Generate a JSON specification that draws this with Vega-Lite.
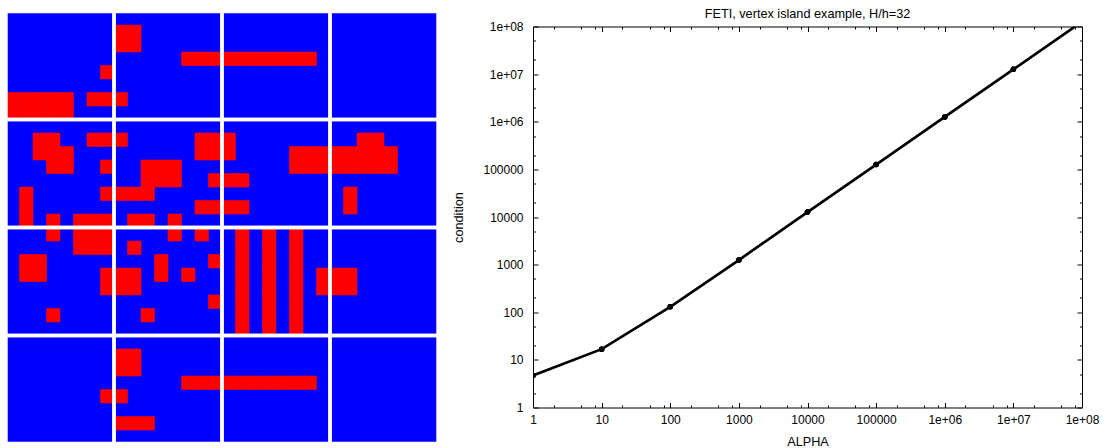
{
  "$schema": "https://vega.github.io/schema/vega-lite/v6.json",
  "padding": {"left": 4, "top": 6.5, "right": 0, "bottom": 0},
  "background": "white",
  "config": {"font": "Liberation Sans"},
  "datasets": {
    "blocks": [
      {"bcol":0,"brow":0},{"bcol":1,"brow":0},{"bcol":2,"brow":0},{"bcol":3,"brow":0},
      {"bcol":0,"brow":1},{"bcol":1,"brow":1},{"bcol":2,"brow":1},{"bcol":3,"brow":1},
      {"bcol":0,"brow":2},{"bcol":1,"brow":2},{"bcol":2,"brow":2},{"bcol":3,"brow":2},
      {"bcol":0,"brow":3},{"bcol":1,"brow":3},{"bcol":2,"brow":3},{"bcol":3,"brow":3}
    ],
    "cells": [
      {"col":8,"row":1},{"col":9,"row":1},{"col":8,"row":2},{"col":9,"row":2},
      {"col":13,"row":3},{"col":14,"row":3},{"col":15,"row":3},{"col":16,"row":3},{"col":17,"row":3},{"col":18,"row":3},{"col":19,"row":3},{"col":20,"row":3},{"col":21,"row":3},{"col":22,"row":3},
      {"col":7,"row":4},
      {"col":0,"row":6},{"col":1,"row":6},{"col":2,"row":6},{"col":3,"row":6},{"col":4,"row":6},{"col":6,"row":6},{"col":7,"row":6},{"col":8,"row":6},
      {"col":0,"row":7},{"col":1,"row":7},{"col":2,"row":7},{"col":3,"row":7},{"col":4,"row":7},
      {"col":2,"row":9},{"col":3,"row":9},{"col":6,"row":9},{"col":7,"row":9},{"col":8,"row":9},{"col":14,"row":9},{"col":15,"row":9},{"col":16,"row":9},{"col":26,"row":9},{"col":27,"row":9},
      {"col":2,"row":10},{"col":3,"row":10},{"col":4,"row":10},{"col":14,"row":10},{"col":15,"row":10},{"col":16,"row":10},{"col":21,"row":10},{"col":22,"row":10},{"col":23,"row":10},{"col":24,"row":10},{"col":25,"row":10},{"col":26,"row":10},{"col":27,"row":10},{"col":28,"row":10},
      {"col":3,"row":11},{"col":4,"row":11},{"col":7,"row":11},{"col":10,"row":11},{"col":11,"row":11},{"col":12,"row":11},{"col":21,"row":11},{"col":22,"row":11},{"col":23,"row":11},{"col":24,"row":11},{"col":25,"row":11},{"col":26,"row":11},{"col":27,"row":11},{"col":28,"row":11},
      {"col":10,"row":12},{"col":11,"row":12},{"col":12,"row":12},{"col":15,"row":12},{"col":16,"row":12},{"col":17,"row":12},
      {"col":1,"row":13},{"col":7,"row":13},{"col":8,"row":13},{"col":9,"row":13},{"col":10,"row":13},{"col":25,"row":13},
      {"col":1,"row":14},{"col":14,"row":14},{"col":15,"row":14},{"col":16,"row":14},{"col":17,"row":14},{"col":25,"row":14},
      {"col":1,"row":15},{"col":3,"row":15},{"col":5,"row":15},{"col":6,"row":15},{"col":7,"row":15},{"col":9,"row":15},{"col":10,"row":15},{"col":12,"row":15},
      {"col":3,"row":16},{"col":5,"row":16},{"col":6,"row":16},{"col":7,"row":16},{"col":12,"row":16},{"col":14,"row":16},{"col":17,"row":16},{"col":19,"row":16},{"col":21,"row":16},
      {"col":5,"row":17},{"col":6,"row":17},{"col":7,"row":17},{"col":9,"row":17},{"col":17,"row":17},{"col":19,"row":17},{"col":21,"row":17},
      {"col":1,"row":18},{"col":2,"row":18},{"col":11,"row":18},{"col":15,"row":18},{"col":17,"row":18},{"col":19,"row":18},{"col":21,"row":18},
      {"col":1,"row":19},{"col":2,"row":19},{"col":7,"row":19},{"col":8,"row":19},{"col":9,"row":19},{"col":11,"row":19},{"col":13,"row":19},{"col":17,"row":19},{"col":19,"row":19},{"col":21,"row":19},{"col":23,"row":19},{"col":24,"row":19},{"col":25,"row":19},
      {"col":7,"row":20},{"col":8,"row":20},{"col":9,"row":20},{"col":17,"row":20},{"col":19,"row":20},{"col":21,"row":20},{"col":23,"row":20},{"col":24,"row":20},{"col":25,"row":20},
      {"col":15,"row":21},{"col":17,"row":21},{"col":19,"row":21},{"col":21,"row":21},
      {"col":3,"row":22},{"col":10,"row":22},{"col":17,"row":22},{"col":19,"row":22},{"col":21,"row":22},
      {"col":17,"row":23},{"col":19,"row":23},{"col":21,"row":23},
      {"col":8,"row":25},{"col":9,"row":25},{"col":8,"row":26},{"col":9,"row":26},
      {"col":13,"row":27},{"col":14,"row":27},{"col":15,"row":27},{"col":16,"row":27},{"col":17,"row":27},{"col":18,"row":27},{"col":19,"row":27},{"col":20,"row":27},{"col":21,"row":27},{"col":22,"row":27},
      {"col":7,"row":28},{"col":8,"row":28},
      {"col":8,"row":30},{"col":9,"row":30},{"col":10,"row":30}
    ],
    "cond": [
      {"alpha": 1, "condition": 4.7},
      {"alpha": 10, "condition": 16.8},
      {"alpha": 100, "condition": 130},
      {"alpha": 1000, "condition": 1250},
      {"alpha": 10000, "condition": 12700},
      {"alpha": 100000, "condition": 126000},
      {"alpha": 1000000, "condition": 1260000},
      {"alpha": 10000000, "condition": 12600000},
      {"alpha": 100000000, "condition": 126000000}
    ]
  },
  "spacing": 95,
  "bounds": "flush",
  "hconcat": [
    {
      "width": 432,
      "height": 417,
      "view": {"stroke": null},
      "layer": [
        {
          "data": {"name": "blocks"},
          "mark": {"type": "rect", "color": "#0000ff"},
          "encoding": {
            "x": {"field": "bcol", "type": "ordinal", "axis": null, "scale": {"domain": [0,1,2,3], "range": [0, 432], "paddingInner": 0, "paddingOuter": 0}},
            "y": {"field": "brow", "type": "ordinal", "axis": null, "scale": {"domain": [0,1,2,3], "range": [-15, 417], "paddingInner": 0, "paddingOuter": 0}}
          }
        },
        {
          "data": {"name": "cells"},
          "mark": {"type": "rect", "color": "#ff0000", "stroke": "#ff0000", "strokeWidth": 0.6},
          "encoding": {
            "x": {"field": "col", "type": "ordinal", "axis": null, "scale": {"domain": [0,1,2,3,4,5,6,7,8,9,10,11,12,13,14,15,16,17,18,19,20,21,22,23,24,25,26,27,28,29,30,31], "range": [0, 432], "paddingInner": 0, "paddingOuter": 0}},
            "y": {"field": "row", "type": "ordinal", "axis": null, "scale": {"domain": [0,1,2,3,4,5,6,7,8,9,10,11,12,13,14,15,16,17,18,19,20,21,22,23,24,25,26,27,28,29,30,31], "range": [-15, 417], "paddingInner": 0, "paddingOuter": 0}}
          }
        },
        {
          "data": {"name": "blocks"},
          "mark": {"type": "rect", "fill": null, "fillOpacity": 0, "stroke": "white", "strokeWidth": 3.4},
          "encoding": {
            "x": {"field": "bcol", "type": "ordinal", "axis": null, "scale": {"domain": [0,1,2,3], "range": [0, 432], "paddingInner": 0, "paddingOuter": 0}},
            "y": {"field": "brow", "type": "ordinal", "axis": null, "scale": {"domain": [0,1,2,3], "range": [-15, 417], "paddingInner": 0, "paddingOuter": 0}}
          }
        }
      ],
      "resolve": {"scale": {"x": "independent", "y": "independent"}}
    },
    {
      "width": 549,
      "height": 381,
      "data": {"name": "cond"},
      "view": {"stroke": "black", "strokeWidth": 1},
      "title": {"text": "FETI, vertex island example, H/h=32", "fontSize": 12.7, "fontWeight": "normal", "color": "black", "offset": 0.3, "anchor": "middle", "frame": "group"},
      "layer": [
        {
          "mark": {"type": "line", "color": "black", "strokeWidth": 2.7, "clip": true},
          "encoding": {
            "x": {
              "field": "alpha", "type": "quantitative",
              "scale": {"type": "log", "domain": [1, 100000000], "nice": false},
              "axis": {
                "orient": "bottom",
                "values": [1,10,100,1000,10000,100000,1000000,10000000,100000000],
                "labelExpr": "datum.value >= 1000000 ? '1e+0' + round(log(datum.value)/LN10) : format(datum.value, 'd')",
                "tickSize": -5, "tickColor": "black", "tickWidth": 1,
                "domain": false, "grid": false,
                "labelFontSize": 12, "labelColor": "black", "labelPadding": 12, "labelFlush": false, "labelOverlap": false,
                "title": "ALPHA", "titleFontSize": 12.7, "titleFontWeight": "normal", "titleColor": "black", "titlePadding": 9.5
              }
            },
            "y": {
              "field": "condition", "type": "quantitative",
              "scale": {"type": "log", "domain": [1, 100000000], "nice": false},
              "axis": {
                "orient": "left",
                "values": [1,10,100,1000,10000,100000,1000000,10000000,100000000],
                "labelExpr": "datum.value >= 1000000 ? '1e+0' + round(log(datum.value)/LN10) : format(datum.value, 'd')",
                "tickSize": -5, "tickColor": "black", "tickWidth": 1,
                "domain": false, "grid": false,
                "labelFontSize": 12, "labelColor": "black", "labelPadding": 15, "labelFlush": false, "labelOverlap": false,
                "title": "condition", "titleFontSize": 12.7, "titleFontWeight": "normal", "titleColor": "black", "titlePadding": 17
              }
            }
          }
        },
        {
          "mark": {"type": "point", "filled": true, "color": "black", "size": 30, "opacity": 1, "clip": true},
          "encoding": {
            "x": {
              "field": "alpha", "type": "quantitative",
              "axis": {
                "orient": "bottom", "labels": false, "title": null, "domain": false, "grid": false,
                "values": [2,5,8,20,50,80,200,500,800,2000,5000,8000,20000,50000,80000,200000,500000,800000,2000000,5000000,8000000,20000000,50000000,80000000],
                "tickSize": -2.5, "tickColor": "black", "tickWidth": 1
              }
            },
            "y": {
              "field": "condition", "type": "quantitative",
              "axis": {
                "orient": "left", "labels": false, "title": null, "domain": false, "grid": false,
                "values": [2,5,20,50,200,500,2000,5000,20000,50000,200000,500000,2000000,5000000,20000000,50000000],
                "tickSize": -2.5, "tickColor": "black", "tickWidth": 1
              }
            }
          }
        },
        {
          "mark": {"type": "point", "filled": true, "color": "black", "size": 30, "opacity": 1, "clip": true},
          "encoding": {
            "x": {
              "field": "alpha", "type": "quantitative",
              "axis": {
                "orient": "top", "labels": false, "title": null, "domain": false, "grid": false,
                "values": [1,10,100,1000,10000,100000,1000000,10000000,100000000],
                "tickSize": -5, "tickColor": "black", "tickWidth": 1
              }
            },
            "y": {
              "field": "condition", "type": "quantitative",
              "axis": {
                "orient": "right", "labels": false, "title": null, "domain": false, "grid": false,
                "values": [1,10,100,1000,10000,100000,1000000,10000000,100000000],
                "tickSize": -5, "tickColor": "black", "tickWidth": 1
              }
            }
          }
        },
        {
          "mark": {"type": "point", "filled": true, "color": "black", "size": 30, "opacity": 1, "clip": true},
          "encoding": {
            "x": {
              "field": "alpha", "type": "quantitative",
              "axis": {
                "orient": "top", "labels": false, "title": null, "domain": false, "grid": false,
                "values": [2,5,8,20,50,80,200,500,800,2000,5000,8000,20000,50000,80000,200000,500000,800000,2000000,5000000,8000000,20000000,50000000,80000000],
                "tickSize": -2.5, "tickColor": "black", "tickWidth": 1
              }
            },
            "y": {
              "field": "condition", "type": "quantitative",
              "axis": {
                "orient": "right", "labels": false, "title": null, "domain": false, "grid": false,
                "values": [2,5,20,50,200,500,2000,5000,20000,50000,200000,500000,2000000,5000000,20000000,50000000],
                "tickSize": -2.5, "tickColor": "black", "tickWidth": 1
              }
            }
          }
        }
      ],
      "resolve": {"axis": {"x": "independent", "y": "independent"}}
    }
  ]
}
